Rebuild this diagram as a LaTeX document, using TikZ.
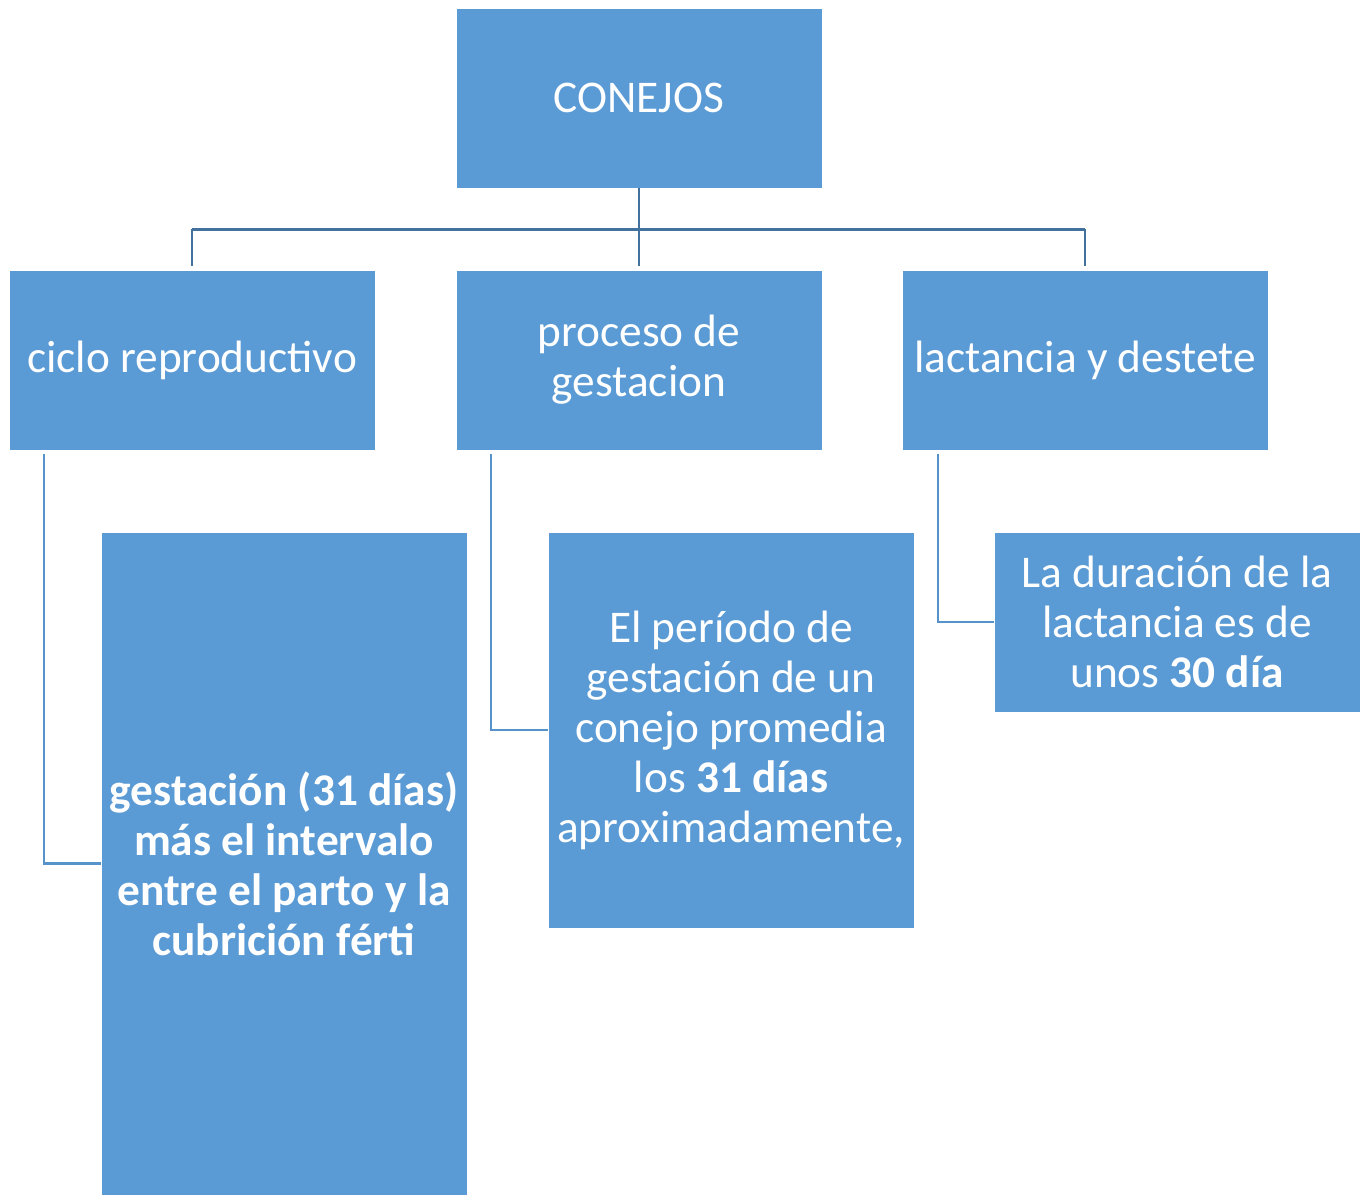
\documentclass[tikz,border=0pt]{standalone}
\usepackage{fontspec}
\setmainfont{Carlito}
\definecolor{boxblue}{HTML}{5B9BD5}
\definecolor{lineblue}{HTML}{41719C}
\begin{document}
\begin{tikzpicture}[x=0.75pt,y=-0.75pt,
  box/.style={fill=boxblue,draw=white,line width=0.6pt,inner sep=0pt,text=white,
    align=center,font=\fontsize{34}{37.5}\selectfont,minimum width=274.5pt},
  toplink/.style={draw=lineblue,line width=1.6pt},
  elbow/.style={draw=boxblue!95!black,line width=1.6pt}]
\useasboundingbox (0,0) rectangle (1368,1195);
\node[box,minimum height=135pt] (root) at (639,98) {CONEJOS};
\node[box,minimum height=135pt] (ciclo) at (192,360) {ciclo reproductivo};
\node[box,minimum height=135pt] (proceso) at (639,360) {proceso de\\gestacion};
\node[box,minimum height=135pt] (lact) at (1085,360) {lactancia y destete};
\node[box,minimum height=497.25pt] (gest) at (284,863.5) {\bfseries gestación (31 días)\\\bfseries más el intervalo\\\bfseries entre el parto y la\\\bfseries cubrición férti};
\node[box,minimum height=297pt] (periodo) at (731,730) {El período de\\gestación de un\\conejo promedia\\los \textbf{31 días}\\aproximadamente,};
\node[box,minimum height=135pt] (dura) at (1177,622) {La duración de la\\lactancia es de\\unos \textbf{30 día}};
\coordinate (hub) at (639,229.5);
\draw[toplink] (root.south) -- (639,266);
\draw[toplink] (192,229.5) -- (1085,229.5);
\draw[toplink] (192,229.5) -- (192,266);
\draw[toplink] (1085,229.5) -- (1085,266);
\draw[elbow] (44,454) |- (gest.west);
\draw[elbow] (491,454) |- (periodo.west);
\draw[elbow] (938,454) |- (dura.west);
\end{tikzpicture}
\end{document}
